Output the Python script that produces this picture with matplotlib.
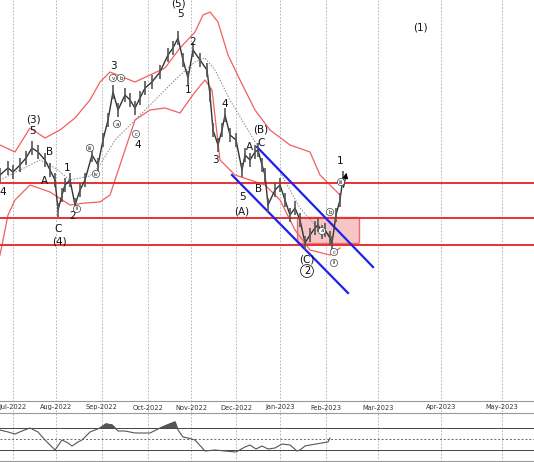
import matplotlib
matplotlib.use("Agg")
import matplotlib.pyplot as plt
from matplotlib.patches import FancyBboxPatch

# everything lives in screen-like units: x = bar position, y = inverted price scale
month_x = [13, 56, 102, 148, 191, 236, 280, 326, 378, 441, 502]
month_lbl = ["Jul-2022", "Aug-2022", "Sep-2022", "Oct-2022", "Nov-2022", "Dec-2022",
             "Jan-2023", "Feb-2023", "Mar-2023", "Apr-2023", "May-2023"]

px = [0, 8, 13, 20, 26, 32, 38, 45, 50, 55, 58, 62, 65, 70, 75, 80, 85, 92, 98, 103, 108, 113,
      118, 125, 130, 135, 140, 145, 152, 160, 168, 173, 178, 183, 188, 193, 200, 207, 210, 213,
      218, 222, 225, 230, 236, 242, 245, 250, 255, 258, 262, 265, 268, 275, 280, 285, 290, 295,
      300, 305, 310, 315, 318, 322, 325, 330, 332, 336, 340, 343]
py = [175, 168, 172, 165, 158, 148, 152, 160, 170, 180, 210, 195, 185, 180, 205, 190, 180, 155,
      165, 140, 120, 92, 110, 95, 100, 108, 98, 88, 82, 72, 55, 48, 38, 60, 78, 50, 60, 70, 95,
      130, 145, 130, 115, 135, 140, 170, 155, 160, 152, 150, 165, 175, 205, 190, 185, 200, 215,
      208, 220, 243, 235, 228, 225, 232, 230, 238, 243, 215, 200, 178]

up_x = [0, 15, 30, 45, 60, 75, 90, 100, 110, 125, 135, 150, 165, 180, 195, 203, 210, 218, 228,
        240, 255, 270, 290, 310, 320, 330, 340]
up_y = [145, 152, 128, 138, 130, 118, 100, 82, 72, 78, 82, 75, 68, 48, 32, 15, 12, 22, 55, 80,
        110, 130, 145, 152, 175, 185, 195]
lo_x = [0, 8, 15, 30, 50, 70, 85, 100, 110, 120, 135, 150, 165, 180, 195, 205, 212, 220, 235,
        250, 265, 280, 295, 310, 330, 340]
lo_y = [255, 215, 200, 185, 192, 205, 203, 202, 195, 165, 120, 110, 108, 113, 92, 80, 90, 160,
        175, 180, 185, 200, 230, 250, 255, 248]
ma_x = [0, 20, 40, 55, 70, 90, 100, 115, 130, 145, 160, 180, 195, 205, 215, 230, 245, 260, 280,
        300, 315, 330]
ma_y = [180, 170, 160, 168, 180, 176, 165, 140, 125, 110, 95, 75, 62, 58, 70, 100, 125, 150,
        172, 208, 225, 235]

osc_x = [0, 8, 15, 22, 30, 38, 45, 50, 55, 62, 68, 72, 78, 82, 90, 100, 106, 112, 118, 125, 135,
         150, 158, 165, 175, 178, 183, 188, 195, 205, 215, 225, 236, 245, 250, 256, 262, 268, 275,
         282, 290, 297, 300, 305, 310, 316, 322, 328, 330]
osc_y = [430, 432, 434, 431, 428, 432, 440, 445, 450, 440, 443, 446, 442, 440, 432, 428, 424,
         425, 431, 431, 433, 433, 429, 426, 422, 430, 437, 438, 440, 451, 450, 451, 452, 447, 445,
         449, 446, 449, 448, 444, 445, 451, 450, 446, 445, 444, 443, 442, 438]

h_lines = [183, 218, 245]

fig = plt.figure(figsize=(5.34, 4.62), dpi=100)
ax = fig.add_axes([0, 0, 1, 1])
ax.set_xlim(0, 534); ax.set_ylim(462, 0); ax.axis("off")

for x in month_x:
    ax.plot([x, x], [0, 462], color="#aaaaaa", lw=0.6, ls=(0, (2, 2)), zorder=0)

ax.plot(up_x, up_y, color="#f06060", lw=0.9)
ax.plot(lo_x, lo_y, color="#f06060", lw=0.9)
ax.plot(ma_x, ma_y, color="#888888", lw=0.7, ls=(0, (1.5, 1.5)))
for y in h_lines:
    ax.plot([0, 534], [y, y], color="#e83030", lw=1.4)
ax.add_patch(FancyBboxPatch((299, 219), 59, 23, boxstyle="round,pad=1.5",
                            facecolor="#f4b8b8", edgecolor="#e85050", lw=1, alpha=0.8))
ax.plot([257, 373], [147, 267], color="#2020ee", lw=1.6)
ax.plot([232, 348], [175, 293], color="#2020ee", lw=1.6)

# price path with small range bars
ax.plot(px, py, color="#333333", lw=1.0, zorder=3)
ax.vlines(px, [v - 7 for v in py], [v + 7 for v in py], color="#555555", lw=1.2, zorder=3)
ax.annotate("", xy=(347, 170), xytext=(343, 190),
            arrowprops=dict(arrowstyle="-|>", color="black", lw=0.8, mutation_scale=8))

labels = [(33, 120, "(3)"), (33, 131, "5"), (50, 152, "B"), (44, 181, "A"), (67, 168, "1"),
          (73, 216, "2"), (58, 229, "C"), (59, 241, "(4)"), (113, 66, "3"), (138, 145, "4"),
          (178, 4, "(5)"), (180, 14, "5"), (193, 42, "2"), (188, 90, "1"), (215, 160, "3"),
          (225, 104, "4"), (242, 197, "5"), (242, 211, "(A)"), (261, 130, "(B)"), (261, 143, "C"),
          (249, 147, "A"), (259, 189, "B"), (307, 259, "(C)"), (340, 161, "1"), (420, 27, "(1)"),
          (3, 192, "4")]
for x, y, t in labels:
    ax.text(x, y, t, ha="center", va="center", fontsize=7.5, color="#111111")
ax.text(307, 271, "2", ha="center", va="center", fontsize=7,
        bbox=dict(boxstyle="circle,pad=0.15", fc="white", ec="#222222", lw=0.6))
circ = [(90, 148, "iii"), (96, 174, "iv"), (77, 209, "ii"), (113, 78, "v"), (121, 78, "b"),
        (117, 124, "a"), (136, 134, "c"), (341, 182, "iii"), (334, 252, "c"), (334, 263, "ii"),
        (322, 231, "a"), (330, 212, "b")]
for x, y, t in circ:
    ax.text(x, y, t, ha="center", va="center", fontsize=4, color="#222222",
            bbox=dict(boxstyle="circle,pad=0.2", fc="white", ec="#444444", lw=0.5))

# date strip
ax.plot([0, 534], [401, 401], color="#999999", lw=0.8)
ax.plot([0, 534], [413, 413], color="#999999", lw=0.8)
for x, t in zip(month_x, month_lbl):
    ax.text(x, 407.5, t, ha="center", va="center", fontsize=4.8, color="#333333")

# oscillator
ax.plot([0, 534], [428, 428], color="#444444", lw=0.7)
ax.plot([0, 534], [439, 439], color="#666666", lw=0.7, ls=(0, (2, 2)))
ax.plot([0, 534], [450, 450], color="#444444", lw=0.7)
ax.plot([0, 534], [461, 461], color="#999999", lw=0.8)
ax.plot(osc_x, osc_y, color="#555555", lw=0.8)
ax.fill_between(osc_x, osc_y, 428, where=[v < 428 for v in osc_y], color="#555555",
                interpolate=True)

fig.savefig("out.png", dpi=100)
